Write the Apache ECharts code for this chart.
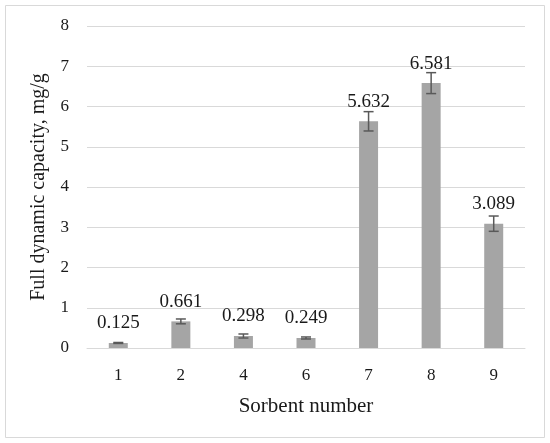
<!DOCTYPE html>
<html>
<head>
<meta charset="utf-8">
<script src="https://cdn.jsdelivr.net/npm/echarts@6/dist/echarts.min.js"></script>
<style>html,body{margin:0;padding:0;background:#fff}#c{width:550px;height:443px}</style>
</head>
<body>
<div id="c"></div>
<script>
const categories = ['1', '2', '4', '6', '7', '8', '9'];
const values = [0.125, 0.661, 0.298, 0.249, 5.632, 6.581, 3.089];
const errors = [0.012, 0.06, 0.05, 0.025, 0.24, 0.26, 0.19];
const yTicks = [0, 1, 2, 3, 4, 5, 6, 7, 8];

const errData = values.map((v, i) => [i, v - errors[i], v + errors[i]]);
const font = '"Liberation Serif", "DejaVu Serif", serif';

const chart = echarts.init(document.getElementById('c'));
chart.setOption({
  animation: false,
  backgroundColor: '#fff',
  graphic: [{
    type: 'rect', shape: { x: 5.5, y: 5.5, width: 539, height: 432 },
    style: { fill: 'none', stroke: '#d9d9d9', lineWidth: 1 }, silent: true
  }],
  grid: { left: 87, right: 25, top: 26, bottom: 95 },
  xAxis: {
    type: 'category', data: categories,
    name: 'Sorbent number', nameLocation: 'middle', nameGap: 48,
    nameTextStyle: { fontFamily: font, fontSize: 21, color: '#1a1a1a' },
    axisLine: { lineStyle: { color: '#d9d9d9' } },
    axisTick: { show: false },
    axisLabel: { fontFamily: font, fontSize: 17, color: '#1a1a1a', margin: 19 }
  },
  yAxis: {
    type: 'value', min: yTicks[0], max: yTicks[yTicks.length - 1], interval: 1,
    name: 'Full dynamic capacity, mg/g', nameLocation: 'middle', nameGap: 38,
    nameTextStyle: { fontFamily: font, fontSize: 20, color: '#1a1a1a' },
    axisLine: { show: false }, axisTick: { show: false },
    splitLine: { lineStyle: { color: '#d9d9d9', width: 1 } },
    axisLabel: { fontFamily: font, fontSize: 17, color: '#1a1a1a', margin: 18 }
  },
  series: [{
    type: 'bar', data: values, barWidth: 19,
    itemStyle: { color: '#a5a5a5' },
    label: {
      show: true, position: 'top', distance: 10,
      fontFamily: font, fontSize: 19, color: '#1a1a1a',
      formatter: p => p.value.toFixed(3)
    }
  }, {
    type: 'custom', data: errData, z: 10,
    renderItem: (params, api) => {
      const x = api.value(0);
      const lo = api.coord([x, api.value(1)]);
      const hi = api.coord([x, api.value(2)]);
      const w = 5;
      const style = { stroke: '#595959', lineWidth: 1.5 };
      return {
        type: 'group',
        children: [
          { type: 'line', shape: { x1: lo[0], y1: lo[1], x2: hi[0], y2: hi[1] }, style },
          { type: 'line', shape: { x1: lo[0] - w, y1: lo[1], x2: lo[0] + w, y2: lo[1] }, style },
          { type: 'line', shape: { x1: hi[0] - w, y1: hi[1], x2: hi[0] + w, y2: hi[1] }, style }
        ]
      };
    }
  }]
});
</script>
</body>
</html>
